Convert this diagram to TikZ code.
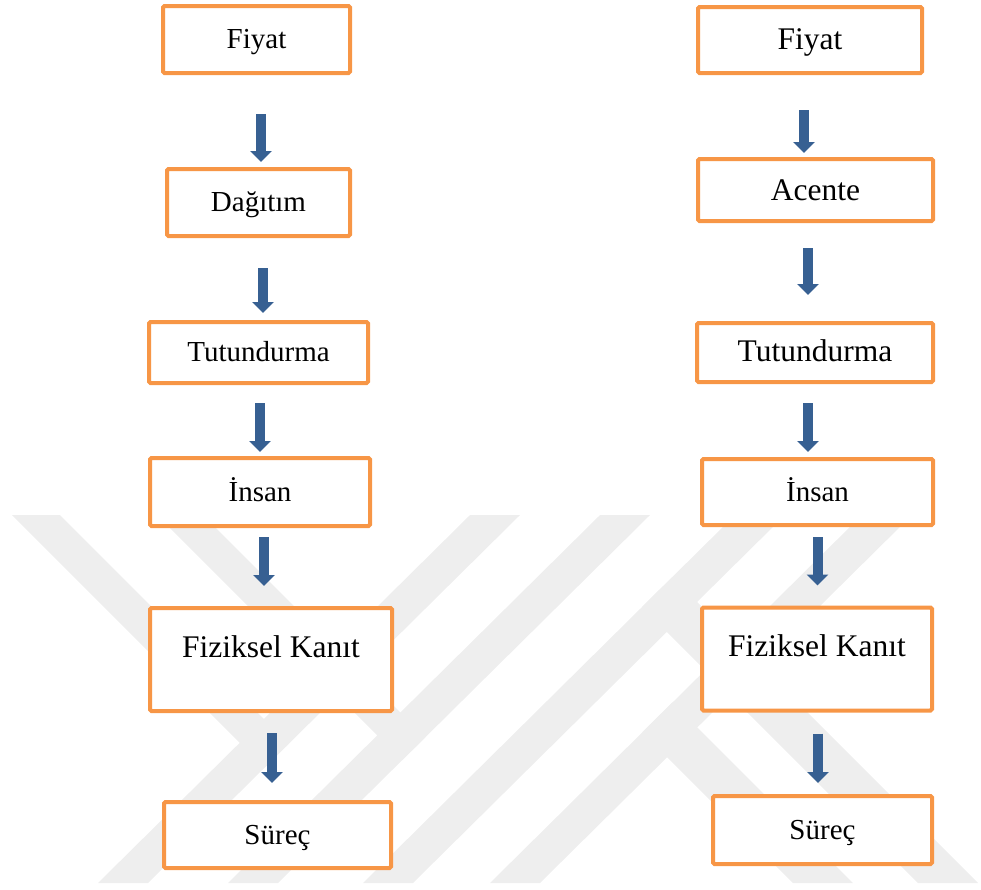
\documentclass[tikz,border=0pt]{standalone}
\usepackage{fontspec}
\setmainfont{Liberation Serif}
\usetikzlibrary{arrows.meta}
\definecolor{boxorange}{RGB}{247,150,70}
\definecolor{arrowblue}{RGB}{55,96,146}
\definecolor{markgray}{RGB}{238,238,238}

\begin{document}
\begin{tikzpicture}[
    x=1pt, y=-1pt,
    font=\fontsize{29}{34}\selectfont,
    mixbox/.style={draw=boxorange, line width=4pt, fill=white, rounded corners=1.5pt,
        inner sep=0pt, text height=20pt, text depth=2pt},
    bigtext/.style={font=\fontsize{31.5}{36}\selectfont},
    tallbox/.style={text height=49pt, text depth=54pt},
    downarrow/.style={draw=arrowblue, line width=10pt, -{Triangle[width=21pt,length=11pt]}},
]

\useasboundingbox (0,0) rectangle (981,889);

% ===== background mark =====
\fill[markgray] (470,515) -- (520,515) -- (148,883) -- (98,883) -- cycle;
\fill[markgray] (600,515) -- (650,515) -- (278,883) -- (228,883) -- cycle;
\fill[markgray] (735,515) -- (785,515) -- (413,883) -- (363,883) -- cycle;
\fill[markgray] (862,515) -- (912,515) -- (540,883) -- (490,883) -- cycle;
\fill[markgray] (12,515) -- (60,515) -- (288.7,743.7) -- (264.6,767.6) -- cycle;
\fill[markgray] (157,515) -- (203,515) -- (425.3,737.3) -- (402.2,760.2) -- cycle;
\fill[markgray] (672.2,577.2) -- (642,607) -- (918,883) -- (978,883) -- cycle;
\fill[markgray] (672.4,702.4) -- (642.3,732.3) -- (793,883) -- (853,883) -- cycle;

% ===== left column =====
\node[mixbox, minimum width=187pt, minimum height=67pt] (lFiyat) at (256.5,39.5) {Fiyat};
\node[mixbox, minimum width=183pt, minimum height=67pt] (lDagitim) at (258.5,202.5) {Dağıtım};
\node[mixbox, minimum width=219pt, minimum height=61pt] (lTutun) at (258.5,352.5) {Tutundurma};
\node[mixbox, minimum width=220pt, minimum height=68pt] (lInsan) at (260,492) {İnsan};
\node[mixbox, tallbox, bigtext, minimum width=242pt] (lFizik) at (271,659.5) {Fiziksel Kanıt};
\node[mixbox, minimum width=227pt, minimum height=66pt] (lSurec) at (277.5,835) {Süreç};

\draw[downarrow, shorten <=39pt, shorten >=5pt] ([xshift=4.5pt]lFiyat.south) -- ([xshift=4.5pt]lFiyat.south |- lDagitim.north);
\draw[downarrow, shorten <=30pt, shorten >=7pt] ([xshift=4.5pt]lDagitim.south) -- ([xshift=4.5pt]lDagitim.south |- lTutun.north);
\draw[downarrow, shorten <=18pt, shorten >=4pt] ([xshift=1.5pt]lTutun.south) -- ([xshift=1.5pt]lTutun.south |- lInsan.north);
\draw[downarrow, shorten <=9pt, shorten >=20pt] ([xshift=4pt]lInsan.south) -- ([xshift=4pt]lInsan.south |- lFizik.north);
\draw[downarrow, shorten <=20pt, shorten >=17pt] ([xshift=1pt]lFizik.south) -- ([xshift=1pt]lFizik.south |- lSurec.north);

% ===== right column =====
\node[mixbox, bigtext, minimum width=224pt, minimum height=66pt] (rFiyat) at (810,40) {Fiyat};
\node[mixbox, bigtext, minimum width=235pt, minimum height=62pt, text depth=-2pt] (rAcente) at (815.5,190) {Acente};
\node[mixbox, bigtext, minimum width=236pt, minimum height=59pt] (rTutun) at (815,352.5) {Tutundurma};
\node[mixbox, minimum width=231pt, minimum height=66pt] (rInsan) at (817.5,492) {İnsan};
\node[mixbox, tallbox, bigtext, minimum width=230pt] (rFizik) at (817,659) {Fiziksel Kanıt};
\node[mixbox, minimum width=219pt, minimum height=68pt] (rSurec) at (822.5,830) {Süreç};

\draw[downarrow, shorten <=35pt, shorten >=4pt] ([xshift=-6pt]rFiyat.south) -- ([xshift=-6pt]rFiyat.south |- rAcente.north);
\draw[downarrow, shorten <=25pt, shorten >=26pt] ([xshift=-7.5pt]rAcente.south) -- ([xshift=-7.5pt]rAcente.south |- rTutun.north);
\draw[downarrow, shorten <=19pt, shorten >=5pt] ([xshift=-7pt]rTutun.south) -- ([xshift=-7pt]rTutun.south |- rInsan.north);
\draw[downarrow, shorten <=10pt, shorten >=20pt] (rInsan.south) -- (rInsan.south |- rFizik.north);
\draw[downarrow, shorten <=21pt, shorten >=11pt] ([xshift=1pt]rFizik.south) -- ([xshift=1pt]rFizik.south |- rSurec.north);

\end{tikzpicture}
\end{document}
